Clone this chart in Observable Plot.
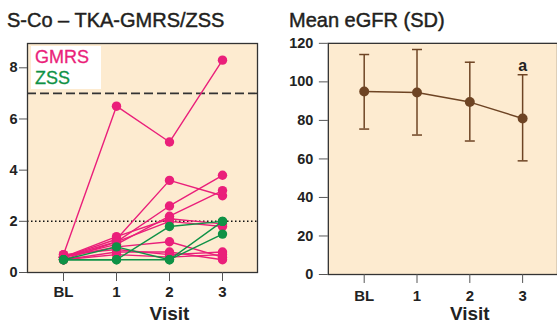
<!DOCTYPE html>
<html>
<head>
<meta charset="utf-8">
<script src="https://cdn.jsdelivr.net/npm/d3@7"></script>
<script src="https://cdn.jsdelivr.net/npm/@observablehq/plot@0.6"></script>
<style>
  html, body { margin: 0; padding: 0; background: #fff; overflow: hidden; }
  #wrap { position: relative; width: 557px; height: 325px; overflow: hidden; font-family: "Liberation Sans", Arial, sans-serif; color: #222; }
  .panel { position: absolute; top: 0; }
  .title { position: absolute; top: 10px; font-size: 20px; line-height: 20px; white-space: nowrap; color: #231f20; -webkit-text-stroke: 0.45px #231f20; }
  .legend { position: absolute; left: 31px; top: 46px; width: 70px; height: 43px; background: #fff; }
  .legend div { position: absolute; left: 4px; font-size: 18px; line-height: 18px; white-space: nowrap; -webkit-text-stroke: 0.3px currentColor; }
</style>
</head>
<body>
<div id="wrap">
  <div class="panel" id="left"></div>
  <div class="panel" id="right" style="left:280px"></div>
  <div class="title" style="left:7px">S-Co – TKA-GMRS/ZSS</div>
  <div class="title" style="left:289px">Mean eGFR (SD)</div>
  <div class="legend">
    <div id="lg1" style="top:2px"></div>
    <div id="lg2" style="top:23px"></div>
  </div>
</div>
<script>
// ---- data ----
const visits = ["BL", "1", "2", "3"];
const groupNames = ["GMRS", "ZSS"];
const groupColors = ["#ea1f7a", "#0f9246"];

// S/Co values per subject at BL, 1, 2, 3
const gmrsSubjects = [
  [0.7, 6.5, 5.1, 8.3],
  [0.6, 1.3, 3.6, 3.0],
  [0.6, 1.2, 2.6, 3.8],
  [0.6, 1.1, 2.2, 3.2],
  [0.6, 1.4, 2.1, 1.9],
  [0.5, 1.2, 2.0, 1.8],
  [0.6, 1.0, 1.2, 0.6],
  [0.5, 0.8, 0.8, 0.5],
  [0.7, 0.9, 0.7, 0.8],
  [0.5, 0.7, 0.6, 0.7]
];
const zssSubjects = [
  [0.5, 1.0, 0.5, 2.0],
  [0.5, 0.5, 1.8, 2.0],
  [0.5, 0.5, 0.5, 1.5]
];
const refLines = [7, 2];
const leftTicks = [0, 2, 4, 6, 8];

// eGFR mean and SD range
const egfrMean = [95, 94.5, 89.5, 81];
const egfrHigh = [114.2, 116.8, 110.2, 103.7];
const egfrLow = [75.5, 72.4, 69.3, 59];
const egfrTicks = [0, 20, 40, 60, 80, 100, 120];
const egfrNote = ["", "", "", "a"];

// ---- build tidy rows ----
function rows(subjects, group) {
  const out = [];
  subjects.forEach((vals, i) => vals.forEach((v, j) => out.push({id: group + i, group, visit: visits[j], value: v})));
  return out;
}
const gRows = rows(gmrsSubjects, groupNames[0]);
const zRows = rows(zssSubjects, groupNames[1]);
const egfr = visits.map((v, i) => ({visit: v, mean: egfrMean[i], hi: egfrHigh[i], lo: egfrLow[i], note: egfrNote[i]}));

const bg = "#fdebd0";
const font = "'Liberation Sans', Arial, sans-serif";
const brown = "#6e4424";

// horizontal cap symbol for error bars (half-width = r)
const capSymbol = {
  draw(context, size) {
    const w = Math.sqrt(size / Math.PI);
    context.moveTo(-w, 0);
    context.lineTo(w, 0);
  }
};

document.getElementById("lg1").textContent = groupNames[0];
document.getElementById("lg1").style.color = groupColors[0];
document.getElementById("lg2").textContent = groupNames[1];
document.getElementById("lg2").style.color = groupColors[1];

const left = Plot.plot({
  width: 280, height: 325,
  marginLeft: 27, marginRight: 23, marginTop: 43, marginBottom: 53,
  style: {fontFamily: font, background: "transparent", color: "#222"},
  x: {type: "point", domain: visits, padding: 0.66},
  y: {domain: [0, 8.95]},
  marks: [
    Plot.frame({fill: bg, stroke: "none"}),
    Plot.ruleY([refLines[0]], {stroke: "#333", strokeWidth: 1.6, strokeDasharray: "9,4"}),
    Plot.ruleY([refLines[1]], {stroke: "#111", strokeWidth: 1.5, strokeDasharray: "1.5,2.5"}),
    Plot.line(gRows, {x: "visit", y: "value", z: "id", stroke: groupColors[0], strokeWidth: 1.4}),
    Plot.dot(gRows, {x: "visit", y: "value", r: 4.7, fill: groupColors[0]}),
    Plot.line(zRows, {x: "visit", y: "value", z: "id", stroke: groupColors[1], strokeWidth: 1.4}),
    Plot.dot(zRows, {x: "visit", y: "value", r: 4.7, fill: groupColors[1]}),
    Plot.frame({stroke: "#333", strokeWidth: 1.3}),
    Plot.axisY({ticks: leftTicks, tickSize: 8, tickPadding: 2, fontSize: 14.5, fontWeight: "bold", label: null, stroke: "#555"}),
    Plot.axisX({tickSize: 9, tickPadding: 5, fontSize: 15, fontWeight: "bold", label: null, stroke: "#555"}),
    Plot.text(["Visit"], {x: () => visits[2], frameAnchor: "bottom", dy: 47, lineAnchor: "bottom", fontSize: 19, fontWeight: "bold", fill: "#222"})
  ]
});
document.getElementById("left").appendChild(left);

const right = Plot.plot({
  width: 278, height: 325,
  marginLeft: 48, marginRight: 0, marginTop: 43, marginBottom: 50,
  style: {fontFamily: font, background: "transparent", color: "#222"},
  x: {type: "point", domain: visits, padding: 0.66},
  y: {domain: [0, 120]},
  marks: [
    Plot.frame({fill: bg, stroke: "none"}),
    Plot.ruleX(egfr, {x: "visit", y1: "lo", y2: "hi", stroke: brown, strokeWidth: 1.5}),
    Plot.dot(egfr, {x: "visit", y: "hi", symbol: capSymbol, r: 5, stroke: brown, strokeWidth: 1.5, fill: "none"}),
    Plot.dot(egfr, {x: "visit", y: "lo", symbol: capSymbol, r: 5, stroke: brown, strokeWidth: 1.5, fill: "none"}),
    Plot.line(egfr, {x: "visit", y: "mean", stroke: brown, strokeWidth: 1.5}),
    Plot.dot(egfr, {x: "visit", y: "mean", r: 5, fill: brown}),
    Plot.text(egfr, {x: "visit", y: "hi", text: "note", dy: -4, lineAnchor: "bottom", fontSize: 16, fontWeight: "bold", fill: "#222"}),
    Plot.frame({stroke: "#333", strokeWidth: 1.3}),
    Plot.axisY({ticks: egfrTicks, tickSize: 9, tickPadding: 6, fontSize: 14.5, fontWeight: "bold", label: null, stroke: "#555"}),
    Plot.axisX({tickSize: 9, tickPadding: 7, fontSize: 15, fontWeight: "bold", label: null, stroke: "#555"}),
    Plot.text(["Visit"], {x: () => visits[2], frameAnchor: "bottom", dy: 46, lineAnchor: "bottom", fontSize: 19, fontWeight: "bold", fill: "#222"})
  ]
});
document.getElementById("right").appendChild(right);
</script>
</body>
</html>
